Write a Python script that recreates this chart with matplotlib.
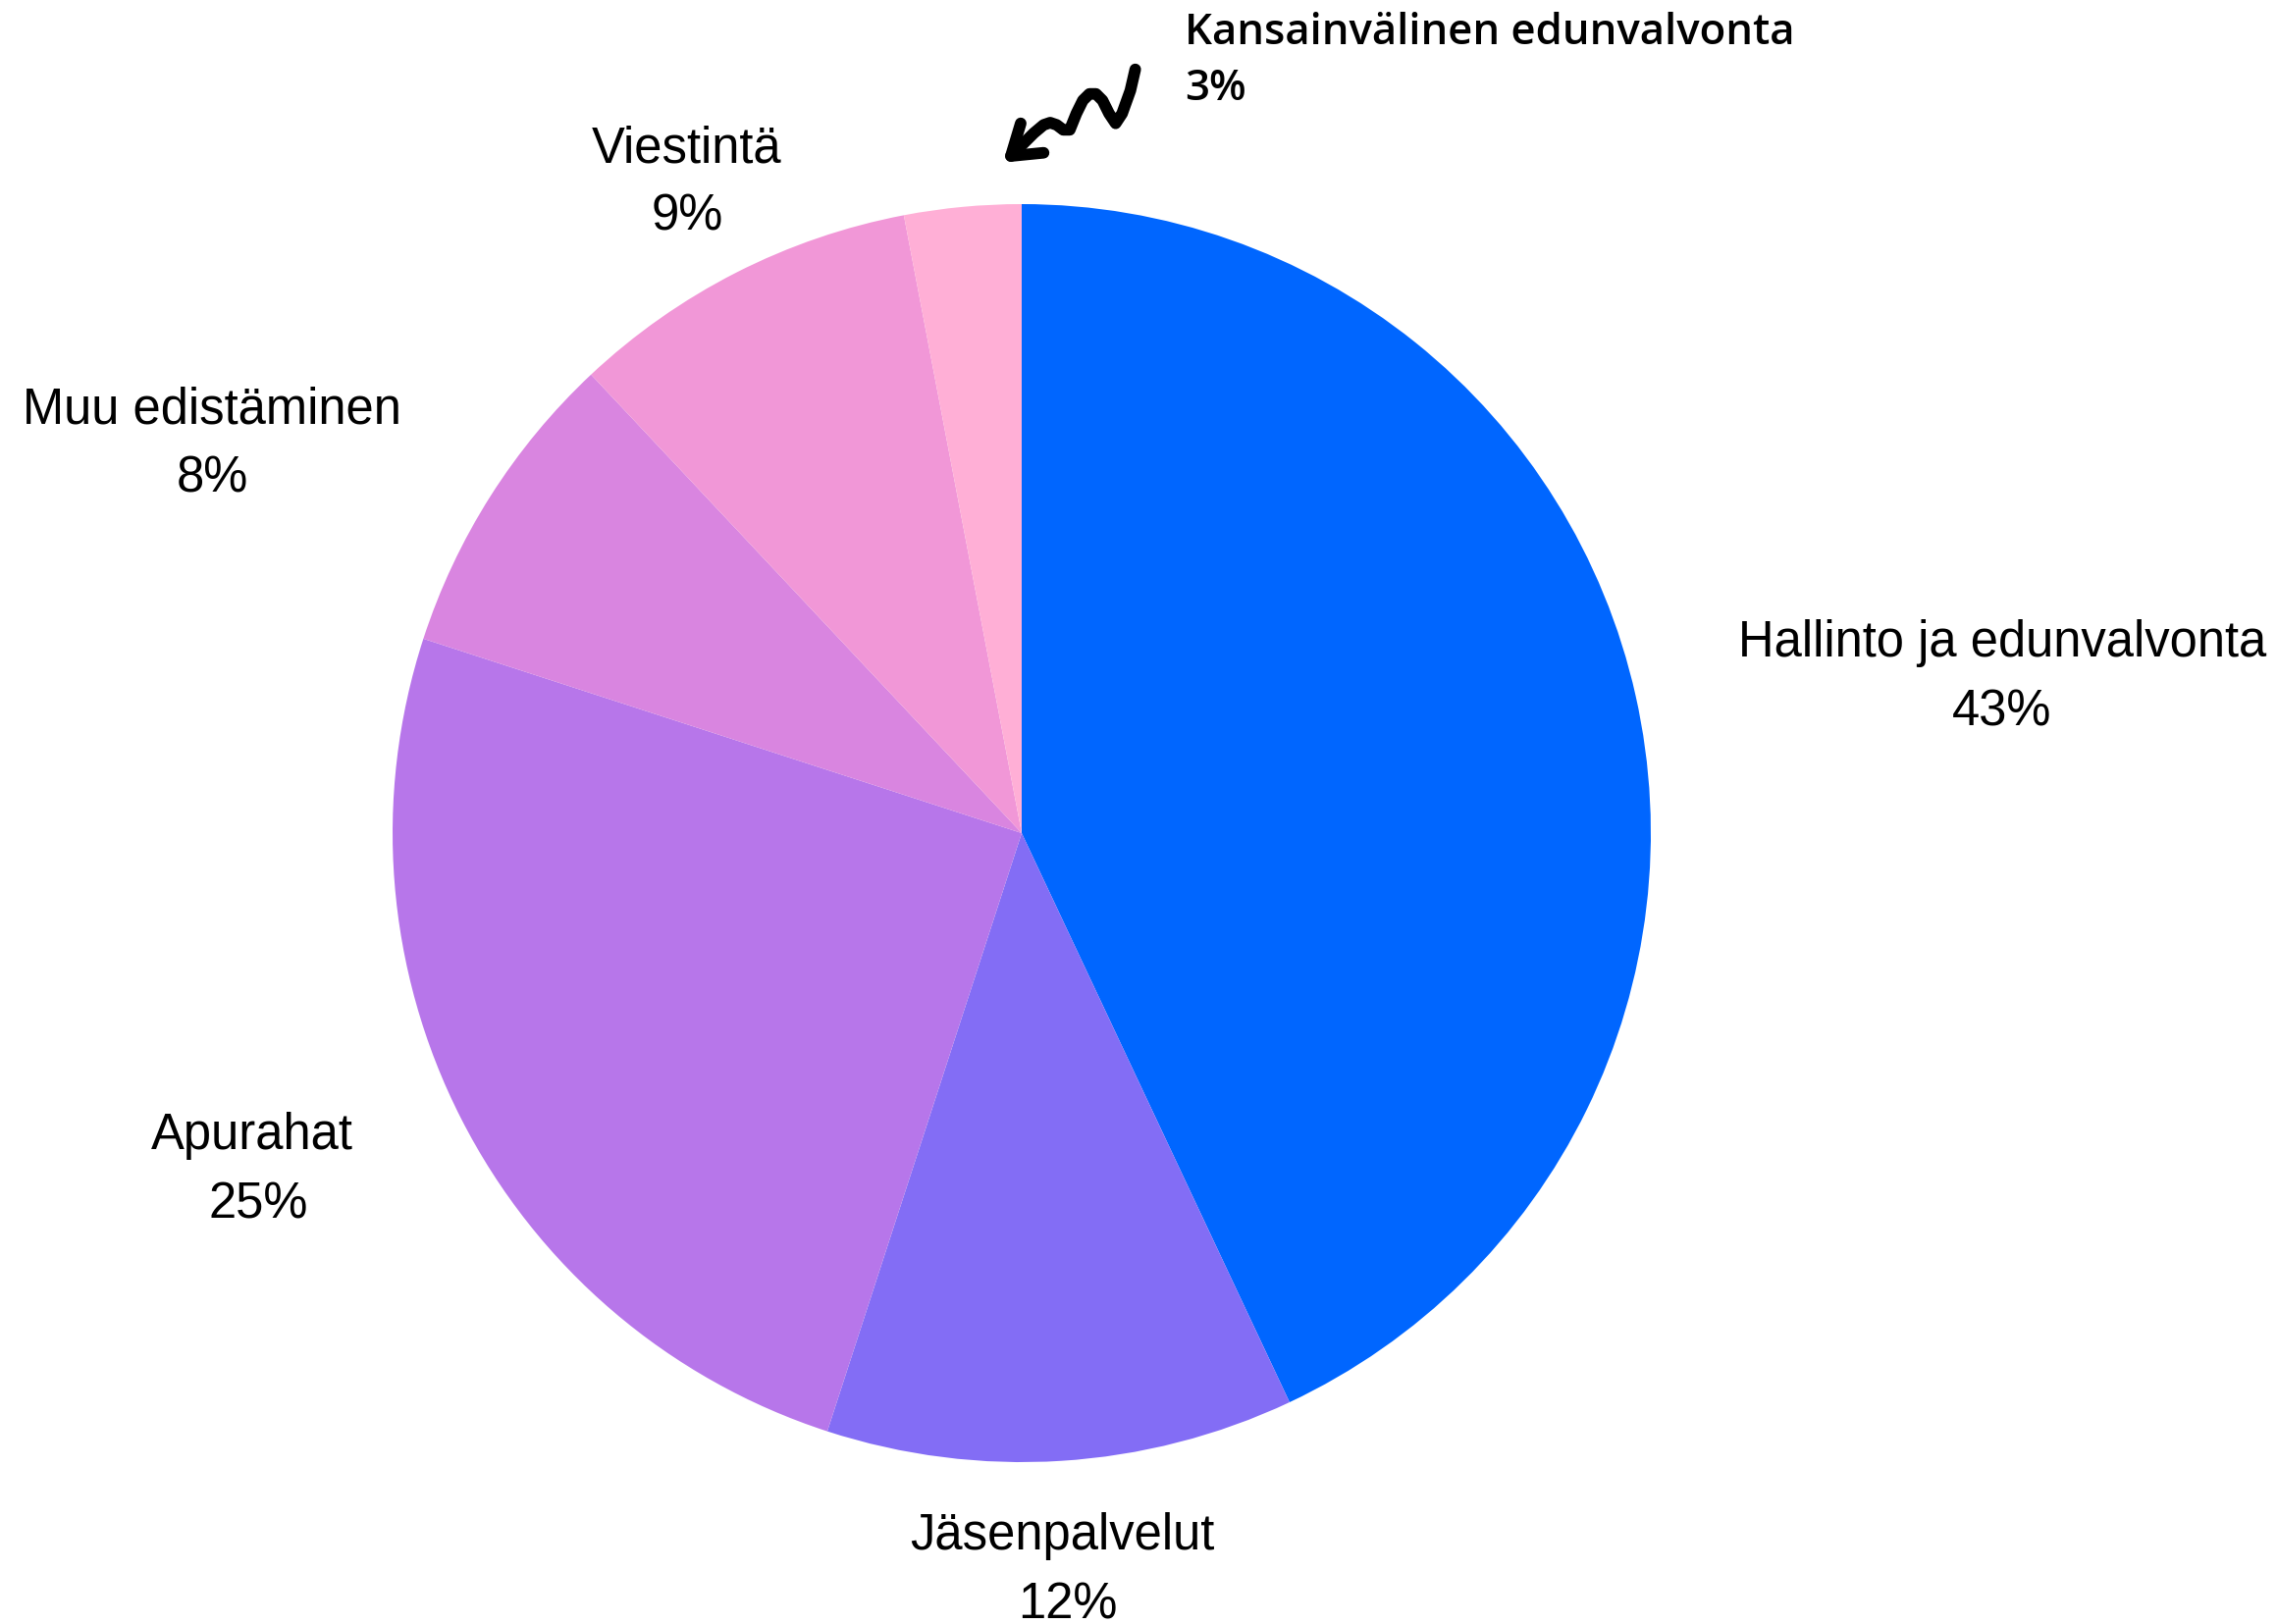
import matplotlib
matplotlib.use('Agg')
import matplotlib.pyplot as plt

# data
categories = ['Hallinto ja edunvalvonta', 'Jäsenpalvelut', 'Apurahat',
              'Muu edistäminen', 'Viestintä', 'Kansainvälinen edunvalvonta']
shares = [43, 12, 25, 8, 9, 3]
colors = ['#0066FF', '#836DF5', '#B776EA', '#D985E0', '#F197D7', '#FFAFD6']

W, H = 2320, 1656

fig = plt.figure(figsize=(W / 100, H / 100), dpi=100)
ax = fig.add_axes([0, 0, 1, 1])


def fy(y):
    # pixel row from top -> data y
    return H - y


ax.pie(shares, colors=colors, startangle=90, counterclock=False,
       center=(1041, fy(850)), radius=641, frame=True,
       wedgeprops=dict(linewidth=0))
ax.set_xlim(0, W)
ax.set_ylim(0, H)
ax.set_aspect('equal')
ax.axis('off')

# label positions (pixel centers): name line, percent line
label_pos = {
    'Hallinto ja edunvalvonta': (2040, 655, 2040, 726),
    'Jäsenpalvelut': (1082, 1566, 1088, 1636),
    'Apurahat': (257, 1158, 263, 1228),
    'Muu edistäminen': (216, 418, 216, 488),
    'Viestintä': (700, 152, 700, 221),
}

for name, val in zip(categories, shares):
    if name in label_pos:
        x1, y1, x2, y2 = label_pos[name]
        ax.text(x1, fy(y1), name, ha='center', va='center',
                fontsize=36.5, family='Liberation Sans')
        ax.text(x2, fy(y2), f'{val}%', ha='center', va='center',
                fontsize=36.5, family='Liberation Sans')

# the small slice gets its label outside with a hand drawn arrow
ax.text(1207, fy(33), categories[5], ha='left', va='center',
        fontsize=31.5, family='Open Sans', fontweight='semibold')
ax.text(1207, fy(90), f'{shares[5]}%', ha='left', va='center',
        fontsize=31.5, family='Open Sans', fontweight='semibold')

sx = [1156.7, 1151.7, 1143.3, 1136.7, 1130, 1123.3, 1116.7, 1110, 1103.3,
      1096.7, 1090, 1083.3, 1076.7, 1070, 1063.3, 1053.3, 1043.3, 1033.3, 1030]
sy = [71.7, 93.3, 116.7, 126.7, 116.7, 103.3, 96.7, 96.7, 103.3,
      116.7, 133.3, 133.3, 128.3, 126, 128.3, 136.7, 146.7, 156.7, 160]
ax.plot(sx, [fy(v) for v in sy], color='black', lw=8.5, solid_capstyle='round',
        solid_joinstyle='round')
ax.plot([1040, 1030, 1063.3], [fy(126.7), fy(160), fy(156.7)], color='black',
        lw=8.5, solid_capstyle='round', solid_joinstyle='round')

fig.savefig('out.png', dpi=100, facecolor='white')
